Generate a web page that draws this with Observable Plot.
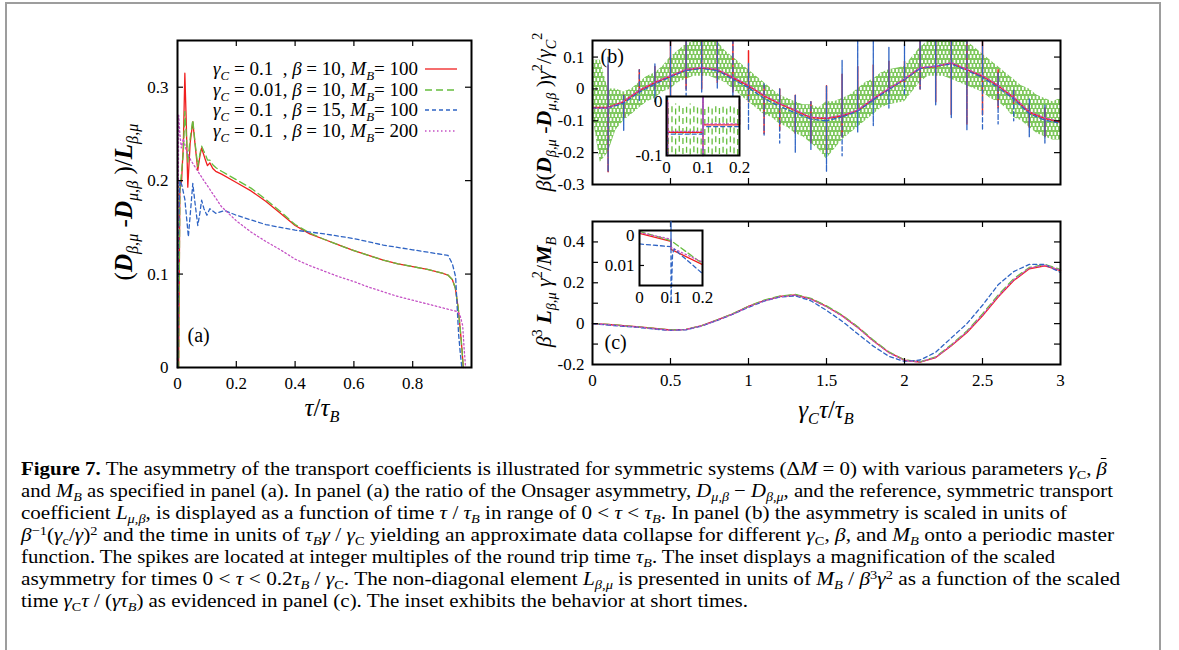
<!DOCTYPE html>
<html><head><meta charset="utf-8">
<script src="https://cdn.jsdelivr.net/npm/d3@7"></script>
<script src="https://cdn.jsdelivr.net/npm/@observablehq/plot@0.6"></script>
<style>
body{margin:0;background:#fff;}
#fig{position:relative;width:1179px;height:650px;overflow:hidden;font-family:"Liberation Serif",Tinos,"Times New Roman",serif;color:#000;background:#fff;}
#border{position:absolute;left:5px;top:2px;width:1156px;height:700px;border:2px solid #9d9d9d;box-sizing:border-box;}
.pl{position:absolute;}
.ttl{position:absolute;white-space:nowrap;transform:translate(-50%,-50%);font-style:italic;}
.rot{transform:translate(-50%,-50%) rotate(-90deg);}
.ttl sub{font-size:65%;vertical-align:-0.35em;line-height:0;}
.ttl sup{font-size:65%;vertical-align:0.6em;line-height:0;}
.ttl b{font-weight:bold;}
.up{font-style:normal;}
.leg{position:absolute;left:0;width:418px;text-align:right;font-size:19px;line-height:20px;white-space:nowrap;}
.leg sub{font-size:68%;vertical-align:-0.35em;line-height:0;font-style:italic;}
.leg .val{display:inline-block;text-align:left;}
.cap{position:absolute;left:21px;font-size:19px;line-height:22px;white-space:nowrap;transform-origin:0 50%;}
.cap sub{font-size:68%;vertical-align:-0.3em;line-height:0;}
.cap sup{font-size:68%;vertical-align:0.5em;line-height:0;}
.bar{position:relative;display:inline-block;}
.bar::after{content:"";position:absolute;left:0.2em;right:0.02em;top:0.02em;border-top:1.3px solid #000;}
</style></head><body>
<svg width="0" height="0" style="position:absolute"><defs>
<pattern id="gband" patternUnits="userSpaceOnUse" width="3.6" height="9"><line x1="0.9" y1="0" x2="0.9" y2="6" stroke="#66bd3e" stroke-width="1.5"/><line x1="2.7" y1="4" x2="2.7" y2="10" stroke="#66bd3e" stroke-width="1.5"/><line x1="2.7" y1="-5" x2="2.7" y2="1" stroke="#66bd3e" stroke-width="1.5"/></pattern>
</defs></svg>
<div id="fig"><div id="border"></div></div>
<script>
// ---------- colours / styles ----------
const cRed = "#f01f1f", cGreen = "#66bd3e", cBlue = "#2f64c4", cPur = "#c552c5";
const FONT = '"Liberation Serif",Tinos,"Times New Roman",serif';

// ---------- panel (a) ----------
const aRedX = [0,0.004,0.008,0.014,0.02,0.025,0.03,0.035,0.043,0.052,0.06,0.069,0.076,0.082,0.089,0.095,0.102,0.11,0.12,0.13,0.15,0.2,0.25,0.3,0.35,0.4,0.45,0.5,0.55,0.6,0.65,0.7,0.75,0.8,0.85,0.9,0.92,0.935,0.945,0.955,0.962,0.968,0.972];
const aRedY = [0,0,0.19,0.2,0.24,0.315,0.26,0.193,0.24,0.263,0.238,0.211,0.226,0.235,0.228,0.222,0.216,0.219,0.213,0.21,0.207,0.198,0.189,0.178,0.165,0.152,0.143,0.137,0.131,0.125,0.12,0.115,0.111,0.108,0.105,0.101,0.099,0.094,0.085,0.063,0.04,0.018,0];
const aGreenY = [0,0,0.19,0.21,0.23,0.274,0.25,0.22,0.245,0.265,0.24,0.215,0.228,0.237,0.232,0.228,0.222,0.222,0.217,0.214,0.21,0.201,0.192,0.18,0.167,0.153,0.144,0.137,0.131,0.125,0.12,0.115,0.111,0.108,0.105,0.101,0.099,0.094,0.085,0.063,0.04,0.018,0];
const aBlueX = [0,0.004,0.008,0.015,0.025,0.037,0.045,0.052,0.06,0.069,0.076,0.082,0.09,0.1,0.11,0.13,0.16,0.2,0.25,0.3,0.4,0.5,0.6,0.7,0.8,0.9,0.92,0.935,0.946,0.956,0.962,0.967];
const aBlueY = [0,0.15,0.2,0.195,0.18,0.14,0.17,0.197,0.175,0.152,0.165,0.179,0.17,0.163,0.17,0.165,0.168,0.163,0.158,0.153,0.147,0.143,0.138,0.131,0.126,0.121,0.12,0.111,0.097,0.036,0.015,0];
const aPurX = [0,0.004,0.008,0.013,0.02,0.03,0.045,0.065,0.09,0.12,0.15,0.2,0.25,0.3,0.35,0.4,0.45,0.5,0.55,0.6,0.65,0.7,0.75,0.8,0.85,0.9,0.95,0.96,0.97,0.975,0.98];
const aPurY = [0,0.27,0.25,0.235,0.245,0.232,0.222,0.212,0.2,0.186,0.172,0.157,0.145,0.135,0.126,0.116,0.109,0.103,0.097,0.092,0.086,0.081,0.076,0.072,0.068,0.064,0.06,0.057,0.045,0.02,0];
const aXTicks = [0,0.2,0.4,0.6,0.8], aYTicks = [0,0.1,0.2,0.3];

// ---------- panel (b) ----------
const bTime = [0,0.1,0.2,0.3,0.4,0.5,0.6,0.7,0.8,0.9,1.0,1.1,1.2,1.3,1.4,1.5,1.6,1.7,1.8,1.9,2.0,2.1,2.2,2.3,2.4,2.5,2.6,2.7,2.8,2.9,3.0];
const bRedBase = [-0.058,-0.058,-0.04,-0.005,0.02,0.04,0.06,0.066,0.06,0.035,0.01,-0.022,-0.047,-0.068,-0.09,-0.093,-0.084,-0.068,-0.031,0.0,0.03,0.066,0.07,0.081,0.06,0.04,0.01,-0.027,-0.073,-0.093,-0.104];
const bRedHi = [null,0.075,-0.02,0.06,0.07,0.16,0.16,0.16,0.16,0.16,0.12,0.01,0.0,-0.02,-0.04,0.01,0.046,0.07,0.075,0.087,0.087,0.16,0.16,0.16,0.16,0.16,0.06,-0.005,-0.05,-0.06,null];
const bRedLo = [null,-0.26,-0.09,-0.01,0.0,-0.07,0.0,0.0,0.02,-0.01,-0.04,-0.14,-0.13,-0.14,-0.17,-0.2,-0.15,-0.06,-0.04,-0.01,0.02,0.0,-0.04,-0.08,-0.11,-0.08,-0.06,-0.045,-0.12,-0.15,null];
const bBlueBase = [-0.06,-0.06,-0.045,-0.01,0.015,0.038,0.058,0.064,0.058,0.03,0.004,-0.03,-0.055,-0.075,-0.095,-0.1,-0.088,-0.07,-0.035,-0.002,0.03,0.064,0.072,0.078,0.058,0.036,0.004,-0.032,-0.078,-0.098,-0.108];
const bBlueHi = [null,0.1,-0.02,0.06,0.08,0.16,0.16,0.16,0.16,0.16,0.08,0.02,0.0,-0.02,-0.04,0.01,0.09,0.16,0.16,0.13,0.14,0.16,0.16,0.16,0.16,0.16,0.05,0.0,-0.03,-0.05,null];
const bBlueLo = [null,-0.26,-0.13,-0.04,-0.04,-0.07,-0.02,-0.01,0.0,-0.03,-0.13,-0.145,-0.17,-0.2,-0.19,-0.26,-0.21,-0.135,-0.115,-0.06,-0.02,0.0,-0.05,-0.09,-0.13,-0.13,-0.11,-0.1,-0.15,-0.17,null];
const bPurBase = [-0.06,-0.06,-0.038,-0.003,0.022,0.042,0.062,0.068,0.062,0.037,0.012,-0.02,-0.045,-0.066,-0.088,-0.091,-0.082,-0.066,-0.029,0.002,0.032,0.068,0.072,0.083,0.062,0.042,0.012,-0.025,-0.071,-0.091,-0.102];
const bGX = [0,0.05,0.1,0.15,0.2,0.25,0.3,0.35,0.4,0.45,0.5,0.55,0.6,0.65,0.7,0.75,0.8,0.85,0.9,0.95,1.0,1.05,1.1,1.15,1.2,1.25,1.3,1.35,1.4,1.45,1.5,1.55,1.6,1.65,1.7,1.75,1.8,1.85,1.9,1.95,2.0,2.05,2.1,2.15,2.2,2.25,2.3,2.35,2.4,2.45,2.5,2.55,2.6,2.65,2.7,2.75,2.8,2.85,2.9,2.95,3.0];
const bGHi = [0.09,0.09,0.0,0.0,-0.01,0.0,0.02,0.04,0.05,0.07,0.1,0.12,0.14,0.15,0.15,0.15,0.15,0.12,0.1,0.08,0.06,0.04,0.02,0.0,-0.02,-0.03,-0.04,-0.05,-0.05,-0.06,-0.04,-0.04,-0.03,-0.02,0.0,0.02,0.03,0.05,0.06,0.065,0.07,0.1,0.13,0.15,0.15,0.15,0.15,0.15,0.15,0.13,0.11,0.09,0.07,0.05,0.03,0.01,0.0,-0.02,-0.03,-0.04,-0.03];
const bGLo = [-0.08,-0.23,-0.2,-0.13,-0.1,-0.08,-0.06,-0.04,-0.03,-0.01,0.0,0.02,0.03,0.04,0.04,0.04,0.03,0.02,0.0,-0.02,-0.04,-0.06,-0.08,-0.09,-0.11,-0.12,-0.14,-0.15,-0.17,-0.19,-0.22,-0.19,-0.16,-0.14,-0.12,-0.1,-0.08,-0.06,-0.05,-0.045,-0.04,-0.01,0.02,0.04,0.04,0.04,0.03,0.02,0.01,0.0,-0.01,-0.03,-0.04,-0.06,-0.09,-0.1,-0.12,-0.14,-0.15,-0.16,-0.16];
const bXTicks = [0.5,1,1.5,2,2.5], bYTicks = [0.1,0,-0.1,-0.2,-0.3];

// inset (b)
const ibGX = [0.005,0.015,0.025,0.035,0.045,0.055,0.065,0.075,0.085,0.095,0.105,0.115,0.125,0.135,0.145,0.155,0.165,0.175,0.185,0.195];
const ibGHi = [-0.004,-0.006,-0.004,-0.008,-0.005,-0.007,-0.004,-0.008,-0.005,-0.006,-0.01,-0.006,-0.009,-0.005,-0.008,-0.006,-0.01,-0.006,-0.008,-0.01];
const ibGLo = [-0.098,-0.095,-0.099,-0.094,-0.098,-0.096,-0.099,-0.095,-0.097,-0.099,-0.1,-0.096,-0.099,-0.095,-0.098,-0.096,-0.099,-0.095,-0.097,-0.1];
const ibRedX = [0.003,0.003,0.003,0.1,0.1,0.1,0.1,0.2,0.2,0.2];
const ibRedY = [-0.1,0.004,-0.057,-0.057,0.01,-0.1,-0.043,-0.043,0.005,-0.04];
const ibBlueY = [-0.1,0.008,-0.06,-0.06,0.01,-0.1,-0.046,-0.046,0.008,-0.045];
const ibPurY = [-0.1,0.0,-0.055,-0.055,0.01,-0.1,-0.041,-0.041,0.0,-0.038];

// ---------- panel (c) ----------
const cTime = [0,0.1,0.2,0.3,0.4,0.5,0.6,0.7,0.8,0.9,1.0,1.1,1.2,1.3,1.4,1.5,1.6,1.7,1.8,1.9,2.0,2.1,2.2,2.3,2.4,2.5,2.6,2.7,2.8,2.9,3.0];
const cRedY = [0,-0.004,-0.01,-0.016,-0.024,-0.031,-0.028,-0.01,0.018,0.048,0.084,0.113,0.133,0.14,0.121,0.084,0.039,-0.018,-0.084,-0.141,-0.179,-0.188,-0.166,-0.108,-0.043,0.039,0.13,0.211,0.269,0.283,0.26];
const cGreenY = [0,-0.004,-0.01,-0.016,-0.024,-0.031,-0.028,-0.01,0.018,0.049,0.085,0.115,0.135,0.143,0.124,0.087,0.042,-0.015,-0.08,-0.138,-0.177,-0.187,-0.163,-0.103,-0.036,0.048,0.14,0.22,0.275,0.29,0.265];
const cBlueY = [0,-0.007,-0.013,-0.019,-0.027,-0.033,-0.03,-0.012,0.016,0.046,0.08,0.11,0.13,0.136,0.112,0.065,0.012,-0.05,-0.11,-0.16,-0.185,-0.178,-0.14,-0.07,0.0,0.09,0.19,0.255,0.29,0.29,0.25];
const cPurY = [0,-0.005,-0.011,-0.017,-0.025,-0.032,-0.029,-0.011,0.017,0.047,0.083,0.112,0.132,0.139,0.12,0.083,0.038,-0.019,-0.085,-0.142,-0.18,-0.188,-0.165,-0.106,-0.04,0.042,0.134,0.214,0.272,0.286,0.262];
const cXTicks = [0,0.5,1,1.5,2,2.5,3], cYTicks = [-0.2,-0.1,0,0.1,0.2,0.3,0.4], cYLabels = [-0.2,0,0.2,0.4];

// inset (c)
const icRedX = [0,0.1,0.1,0.1,0.2], icRedY = [0.0007,-0.0019,-0.0032,-0.0046,-0.0097];
const icGreenX = [0,0.1,0.2], icGreenY = [0.0014,-0.0017,-0.0094];
const icPurX = [0,0.1,0.1,0.2], icPurY = [0.001,-0.0012,-0.004,-0.0089];
const icBlueX = [0,0.1,0.1,0.1,0.105,0.11,0.2], icBlueY = [-0.0028,-0.0037,0.0047,-0.0225,-0.006,-0.0045,-0.0127];
const icXTicks = [0,0.1,0.2], icYTicks = [0,-0.01], icYLabels = ["0","0.01"];

// ---------- helpers ----------
const zip = (xs, ys) => xs.map((x, i) => ({x, y: ys[i]}));
function spiky(base, hi, lo) {
  const pts = [];
  bTime.forEach((t, i) => {
    pts.push({x: t, y: base[i]});
    if (hi[i] != null) { pts.push({x: t, y: hi[i]}); pts.push({x: t, y: lo[i]}); pts.push({x: t, y: base[i]}); }
  });
  return pts;
}
const fmt = d => String(d);
const fig = document.getElementById("fig");
function place(svg, left, top) { svg.classList.add("pl"); svg.style.left = left + "px"; svg.style.top = top + "px"; fig.appendChild(svg); }
const baseStyle = {fontFamily: FONT, fontSize: "17px", background: "none", overflow: "visible", color: "black"};
function frameTicks(xt, yt, fw, fh, len) {
  return [
    Plot.tickX(xt, {x: d => d, insetTop: fh - len, strokeWidth: 1.2}),
    Plot.tickX(xt, {x: d => d, insetBottom: fh - len, strokeWidth: 1.2}),
    Plot.tickY(yt, {y: d => d, insetRight: fw - len, strokeWidth: 1.2}),
    Plot.tickY(yt, {y: d => d, insetLeft: fw - len, strokeWidth: 1.2})
  ];
}

// ---------- draw (a) ----------
{
  const W = 520, H = 430, ml = 177, mt = 40, mr = 49, mb = 63;
  const fw = W - ml - mr, fh = H - mt - mb;
  const p = Plot.plot({
    width: W, height: H, marginLeft: ml, marginTop: mt, marginRight: mr, marginBottom: mb,
    style: baseStyle,
    x: {domain: [0, 1]}, y: {domain: [0, 0.35]},
    marks: [
      Plot.line(zip(aRedX, aRedY), {x: "x", y: "y", stroke: cRed, strokeWidth: 1.3}),
      Plot.line(zip(aRedX, aGreenY), {x: "x", y: "y", stroke: cGreen, strokeWidth: 1.3, strokeDasharray: "7,4"}),
      Plot.line(zip(aBlueX, aBlueY), {x: "x", y: "y", stroke: cBlue, strokeWidth: 1.3, strokeDasharray: "4,3"}),
      Plot.line(zip(aPurX, aPurY), {x: "x", y: "y", stroke: cPur, strokeWidth: 1.3, strokeDasharray: "1.5,2.5"}),
      ...frameTicks([0.2,0.4,0.6,0.8], [0.1,0.2,0.3], fw, fh, 6),
      Plot.axisX({ticks: aXTicks, tickSize: 0, tickPadding: 9, tickFormat: fmt, label: null}),
      Plot.axisY({ticks: aYTicks, tickSize: 0, tickPadding: 9, tickFormat: fmt, label: null}),
      Plot.text(["(a)"], {frameAnchor: "bottom-left", dx: 10, dy: -26, fontSize: 20, textAnchor: "start"}),
      Plot.frame({stroke: "black", strokeWidth: 2})
    ]
  });
  place(p, 0, 0);
}

// ---------- draw (b) ----------
{
  const W = 600, H = 200, ml = 92, mt = 40, mr = 40, mb = 16;
  const fw = W - ml - mr, fh = H - mt - mb;
  const p = Plot.plot({
    width: W, height: H, marginLeft: ml, marginTop: mt, marginRight: mr, marginBottom: mb,
    style: baseStyle,
    x: {domain: [0, 3], axis: null}, y: {domain: [-0.3, 0.152]},
    marks: [
      Plot.areaY(bGX.map((x, i) => ({x, lo: bGLo[i], hi: bGHi[i]})), {x: "x", y1: "lo", y2: "hi", fill: "url(#gband)", clip: true}),
      Plot.line(spiky(bRedBase, bRedHi, bRedLo), {x: "x", y: "y", stroke: cRed, strokeWidth: 1.5, clip: true}),
      Plot.line(spiky(bBlueBase, bBlueHi, bBlueLo), {x: "x", y: "y", stroke: cBlue, strokeWidth: 1.3, strokeDasharray: "4,3", clip: true}),
      Plot.line(zip(bTime, bPurBase), {x: "x", y: "y", stroke: cPur, strokeWidth: 1.3, strokeDasharray: "1.5,2.5", clip: true}),
      ...frameTicks(bXTicks, [0.1,0,-0.1,-0.2], fw, fh, 6),
      Plot.axisY({ticks: bYTicks, tickSize: 0, tickPadding: 8, tickFormat: fmt, label: null}),
      Plot.text(["(b)"], {frameAnchor: "top-left", dx: 8, dy: 8, fontSize: 20, textAnchor: "start"}),
      Plot.frame({stroke: "black", strokeWidth: 2})
    ]
  });
  place(p, 500, 0);
}
// inset (b)
{
  const W = 130, H = 100, ml = 46, mt = 10, mr = 11, mb = 31;
  const p = Plot.plot({
    width: W, height: H, marginLeft: ml, marginTop: mt, marginRight: mr, marginBottom: mb,
    style: baseStyle,
    x: {domain: [0, 0.2]}, y: {domain: [-0.1, 0.01]},
    marks: [
      Plot.frame({fill: "white"}),
      Plot.ruleX(ibGX.map((x, i) => ({x, lo: ibGLo[i], hi: ibGHi[i]})), {x: "x", y1: "lo", y2: "hi", stroke: cGreen, strokeWidth: 1.3, strokeDasharray: "6,4"}),
      Plot.line(zip(ibRedX, ibRedY), {x: "x", y: "y", stroke: cRed, strokeWidth: 1.3}),
      Plot.line(zip(ibRedX, ibBlueY), {x: "x", y: "y", stroke: cBlue, strokeWidth: 1.3, strokeDasharray: "4,3"}),
      Plot.line(zip(ibRedX, ibPurY), {x: "x", y: "y", stroke: cPur, strokeWidth: 1.3, strokeDasharray: "1.5,2.5"}),
      Plot.axisX({ticks: [0, 0.1, 0.2], tickSize: 0, tickPadding: 5, tickFormat: fmt, label: null}),
      Plot.axisY({ticks: [0, -0.1], tickSize: 0, tickPadding: 4, tickFormat: fmt, label: null}),
      Plot.frame({stroke: "black", strokeWidth: 2})
    ]
  });
  place(p, 620, 86);
}

// ---------- draw (c) ----------
{
  const W = 600, H = 230, ml = 92, mt = 21, mr = 40, mb = 66;
  const fw = W - ml - mr, fh = H - mt - mb;
  const p = Plot.plot({
    width: W, height: H, marginLeft: ml, marginTop: mt, marginRight: mr, marginBottom: mb,
    style: baseStyle,
    x: {domain: [0, 3]}, y: {domain: [-0.2, 0.5]},
    marks: [
      Plot.line(zip(cTime, cRedY), {x: "x", y: "y", stroke: cRed, strokeWidth: 1.4}),
      Plot.line(zip(cTime, cGreenY), {x: "x", y: "y", stroke: cGreen, strokeWidth: 1.3, strokeDasharray: "7,4"}),
      Plot.line(zip(cTime, cBlueY), {x: "x", y: "y", stroke: cBlue, strokeWidth: 1.3, strokeDasharray: "4,3"}),
      Plot.line(zip(cTime, cPurY), {x: "x", y: "y", stroke: cPur, strokeWidth: 1.3, strokeDasharray: "1.5,2.5"}),
      ...frameTicks([0.5,1,1.5,2,2.5], [-0.1,0,0.1,0.2,0.3,0.4], fw, fh, 6),
      Plot.axisX({ticks: cXTicks, tickSize: 0, tickPadding: 9, tickFormat: fmt, label: null}),
      Plot.axisY({ticks: cYLabels, tickSize: 0, tickPadding: 8, tickFormat: fmt, label: null}),
      Plot.text(["(c)"], {frameAnchor: "bottom-left", dx: 12, dy: -16, fontSize: 20, textAnchor: "start"}),
      Plot.frame({stroke: "black", strokeWidth: 2})
    ]
  });
  place(p, 500, 200);
}
// inset (c)
{
  const W = 120, H = 95, ml = 44, mt = 15, mr = 13, mb = 25;
  const p = Plot.plot({
    width: W, height: H, marginLeft: ml, marginTop: mt, marginRight: mr, marginBottom: mb,
    style: baseStyle,
    x: {domain: [0, 0.2]}, y: {domain: [-0.0167, 0.0017]},
    marks: [
      Plot.frame({fill: "white"}),
      Plot.line(zip(icRedX, icRedY), {x: "x", y: "y", stroke: cRed, strokeWidth: 1.3}),
      Plot.line(zip(icGreenX, icGreenY), {x: "x", y: "y", stroke: cGreen, strokeWidth: 1.3, strokeDasharray: "6,3"}),
      Plot.line(zip(icPurX, icPurY), {x: "x", y: "y", stroke: cPur, strokeWidth: 1.3, strokeDasharray: "1.5,2.5"}),
      Plot.line(zip(icBlueX, icBlueY), {x: "x", y: "y", stroke: cBlue, strokeWidth: 1.3, strokeDasharray: "4,3"}),
      Plot.tickY([-0.01], {y: d => d, insetRight: 58, strokeWidth: 1.2}),
      Plot.axisX({ticks: icXTicks, tickSize: 0, tickPadding: 5, tickFormat: fmt, label: null}),
      Plot.axisY({ticks: icYTicks, tickSize: 0, tickPadding: 5, tickFormat: (d, i) => icYLabels[i], label: null}),
      Plot.frame({stroke: "black", strokeWidth: 2})
    ]
  });
  place(p, 595, 215);
}

// ---------- HTML text: titles, legend, caption ----------
function addHTML(html) { fig.insertAdjacentHTML("beforeend", html); }
addHTML(`<div class="ttl rot" style="left:124px;top:202px;font-size:25px;"><span class="up">(</span><b>D</b><sub>β,μ</sub> <span class="up">-</span><b>D</b><sub>μ,β</sub> <span class="up">)/</span><b>L</b><sub>β,μ</sub></div>`);
addHTML(`<div class="ttl" style="left:322px;top:408px;font-size:25px;">τ<span class="up">/</span>τ<sub>B</sub></div>`);
addHTML(`<div class="ttl rot" style="left:544px;top:112px;font-size:22px;">β<span class="up">(</span><b>D</b><sub>β,μ</sub> <span class="up">-</span><b>D</b><sub>μ,β</sub> <span class="up">)</span>γ<sup class="up">2</sup><span class="up">/</span>γ<sub>C</sub><sup class="up">2</sup></div>`);
addHTML(`<div class="ttl rot" style="left:544px;top:292px;font-size:22px;">β<sup class="up">3</sup> <b>L</b><sub>β,μ</sub> γ<sup class="up">2</sup><span class="up">/</span><b>M</b><sub>B</sub></div>`);
addHTML(`<div class="ttl" style="left:826px;top:410px;font-size:25px;">γ<sub>C</sub>τ<span class="up">/</span>τ<sub>B</sub></div>`);

const legRows = [
  {v: "0.1", b: "10", m: "100", c: cRed, d: ""},
  {v: "0.01", b: "10", m: "100", c: cGreen, d: "7,4"},
  {v: "0.1", b: "15", m: "100", c: cBlue, d: "4,3"},
  {v: "0.1", b: "10", m: "200", c: cPur, d: "1.5,2.5"}
];
legRows.forEach((r, i) => {
  const cy = 69 + i * 20.5;
  addHTML(`<div class="leg" style="top:${cy - 10}px;"><i>γ</i><sub>C</sub> = <span class="val" style="width:1.75em">${r.v}</span>, <i>β</i> = ${r.b}, <i>M</i><sub>B</sub>= ${r.m}</div>`);
  addHTML(`<svg class="pl" style="left:424px;top:${cy - 3}px" width="34" height="6"><line x1="1" y1="3" x2="33" y2="3" stroke="${r.c}" stroke-width="1.3" stroke-dasharray="${r.d}"/></svg>`);
});

const capLines = [
  [`<b>Figure 7.</b> The asymmetry of the transport coefficients is illustrated for symmetric systems (Δ<i>M</i> = 0) with various parameters <i>γ</i><sub>C</sub>, <i class="bar">β</i>`, 1086],
  [`and <i>M</i><sub><i>B</i></sub> as specified in panel (a). In panel (a) the ratio of the Onsager asymmetry, <i>D</i><sub><i>μ</i>,<i>β</i></sub> − <i>D</i><sub><i>β</i>,<i>μ</i></sub>, and the reference, symmetric transport`, 1092],
  [`coefficient <i>L</i><sub><i>μ</i>,<i>β</i></sub>, is displayed as a function of time <i>τ</i> / <i>τ</i><sub><i>B</i></sub> in range of 0 &lt; <i>τ</i> &lt; <i>τ</i><sub><i>B</i></sub>. In panel (b) the asymmetry is scaled in units of`, 1046],
  [`<i>β</i><sup>−1</sup>(<i>γ</i><sub>c</sub>/<i>γ</i>)<sup>2</sup> and the time in units of <i>τ</i><sub><i>B</i></sub><i>γ</i> / <i>γ</i><sub>C</sub> yielding an approximate data collapse for different <i>γ</i><sub>C</sub>, <i>β</i>, and <i>M</i><sub><i>B</i></sub> onto a periodic master`, 1093],
  [`function. The spikes are located at integer multiples of the round trip time <i>τ</i><sub><i>B</i></sub>. The inset displays a magnification of the scaled`, 1034],
  [`asymmetry for times 0 &lt; <i>τ</i> &lt; 0.2<i>τ</i><sub><i>B</i></sub> / <i>γ</i><sub>C</sub>. The non-diagonal element <i>L</i><sub><i>β</i>,<i>μ</i></sub> is presented in units of <i>M</i><sub><i>B</i></sub> / <i>β</i><sup>3</sup><i>γ</i><sup>2</sup> as a function of the scaled`, 1099],
  [`time <i>γ</i><sub>C</sub><i>τ</i> / (<i>γτ</i><sub><i>B</i></sub>) as evidenced in panel (c). The inset exhibits the behavior at short times.`, 727]
];
capLines.forEach(([html, target], i) => {
  const cy = 469 + i * 22;
  const el = document.createElement("div");
  el.className = "cap";
  el.style.top = (cy - 11) + "px";
  el.innerHTML = html;
  fig.appendChild(el);
  const w = el.getBoundingClientRect().width;
  el.style.transform = `scaleX(${(target / w).toFixed(4)})`;
});
</script>
</body></html>
